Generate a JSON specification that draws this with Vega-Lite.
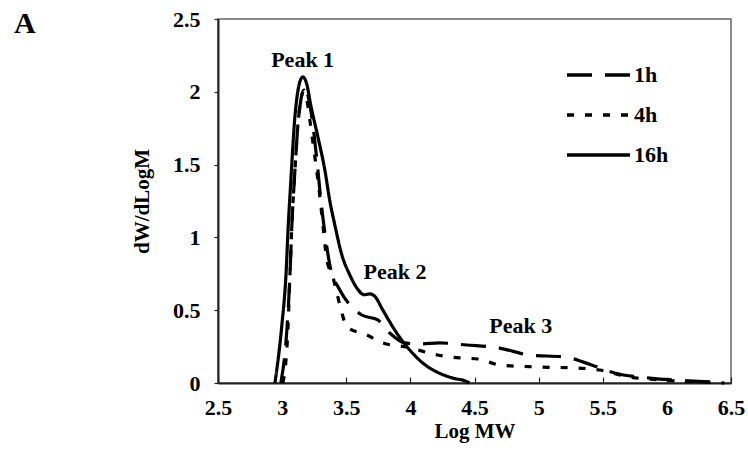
{
  "$schema": "https://vega.github.io/schema/vega-lite/v6.json",
  "width": 513,
  "height": 364,
  "autosize": {"type": "none"},
  "padding": {"left": 218, "top": 19, "right": 17, "bottom": 92},
  "background": "white",
  "title": {"text": "A", "anchor": "start", "frame": "group", "fontSize": 30, "font": "Liberation Serif", "fontWeight": "bold", "color": "black", "dx": -204, "offset": 0, "dy": 55, "baseline": "alphabetic"},
  "config": {
    "view": {"stroke": "#666", "strokeWidth": 1.5},
    "font": "Liberation Serif",
    "axis": {"labelFont": "Liberation Serif", "labelFontWeight": "bold", "labelFontSize": 22, "labelColor": "black", "titleFont": "Liberation Serif", "titleFontWeight": "bold", "titleFontSize": 21, "titleColor": "black", "domainColor": "#222", "domainWidth": 2, "tickColor": "#222", "tickWidth": 1.2, "grid": false}
  },
  "datasets": {
    "curves": [
      {"s": "1h", "x": 2.99, "y": 0},
      {"s": "1h", "x": 3.037, "y": 0.364},
      {"s": "1h", "x": 3.061, "y": 0.742},
      {"s": "1h", "x": 3.076, "y": 1.085},
      {"s": "1h", "x": 3.1, "y": 1.463},
      {"s": "1h", "x": 3.123, "y": 1.772},
      {"s": "1h", "x": 3.146, "y": 1.944},
      {"s": "1h", "x": 3.178, "y": 2.026},
      {"s": "1h", "x": 3.209, "y": 1.944},
      {"s": "1h", "x": 3.24, "y": 1.772},
      {"s": "1h", "x": 3.271, "y": 1.532},
      {"s": "1h", "x": 3.302, "y": 1.257},
      {"s": "1h", "x": 3.341, "y": 0.982},
      {"s": "1h", "x": 3.372, "y": 0.81},
      {"s": "1h", "x": 3.45, "y": 0.639},
      {"s": "1h", "x": 3.528, "y": 0.536},
      {"s": "1h", "x": 3.621, "y": 0.467},
      {"s": "1h", "x": 3.746, "y": 0.433},
      {"s": "1h", "x": 3.84, "y": 0.343},
      {"s": "1h", "x": 3.956, "y": 0.275},
      {"s": "1h", "x": 4.073, "y": 0.268},
      {"s": "1h", "x": 4.229, "y": 0.275},
      {"s": "1h", "x": 4.439, "y": 0.261},
      {"s": "1h", "x": 4.696, "y": 0.24},
      {"s": "1h", "x": 4.93, "y": 0.192},
      {"s": "1h", "x": 5.202, "y": 0.179},
      {"s": "1h", "x": 5.413, "y": 0.124},
      {"s": "1h", "x": 5.592, "y": 0.069},
      {"s": "1h", "x": 5.865, "y": 0.034},
      {"s": "1h", "x": 6.176, "y": 0.014},
      {"s": "1h", "x": 6.409, "y": 0.007},
      {"s": "4h", "x": 3.006, "y": 0},
      {"s": "4h", "x": 3.045, "y": 0.364},
      {"s": "4h", "x": 3.061, "y": 0.742},
      {"s": "4h", "x": 3.076, "y": 1.085},
      {"s": "4h", "x": 3.1, "y": 1.463},
      {"s": "4h", "x": 3.123, "y": 1.772},
      {"s": "4h", "x": 3.146, "y": 1.944},
      {"s": "4h", "x": 3.17, "y": 2.012},
      {"s": "4h", "x": 3.193, "y": 1.944},
      {"s": "4h", "x": 3.216, "y": 1.806},
      {"s": "4h", "x": 3.248, "y": 1.6},
      {"s": "4h", "x": 3.279, "y": 1.394},
      {"s": "4h", "x": 3.31, "y": 1.154},
      {"s": "4h", "x": 3.349, "y": 0.845},
      {"s": "4h", "x": 3.396, "y": 0.728},
      {"s": "4h", "x": 3.427, "y": 0.618},
      {"s": "4h", "x": 3.466, "y": 0.481},
      {"s": "4h", "x": 3.505, "y": 0.385},
      {"s": "4h", "x": 3.66, "y": 0.33},
      {"s": "4h", "x": 3.785, "y": 0.275},
      {"s": "4h", "x": 3.972, "y": 0.247},
      {"s": "4h", "x": 4.213, "y": 0.192},
      {"s": "4h", "x": 4.385, "y": 0.172},
      {"s": "4h", "x": 4.525, "y": 0.165},
      {"s": "4h", "x": 4.696, "y": 0.124},
      {"s": "4h", "x": 4.992, "y": 0.11},
      {"s": "4h", "x": 5.304, "y": 0.103},
      {"s": "4h", "x": 5.475, "y": 0.089},
      {"s": "4h", "x": 5.709, "y": 0.041},
      {"s": "4h", "x": 5.942, "y": 0.021},
      {"s": "4h", "x": 6.254, "y": 0.007},
      {"s": "4h", "x": 6.449, "y": 0},
      {"s": "16h", "x": 2.944, "y": 0},
      {"s": "16h", "x": 2.998, "y": 0.398},
      {"s": "16h", "x": 3.03, "y": 0.742},
      {"s": "16h", "x": 3.048, "y": 1.085},
      {"s": "16h", "x": 3.066, "y": 1.36},
      {"s": "16h", "x": 3.082, "y": 1.6},
      {"s": "16h", "x": 3.097, "y": 1.8},
      {"s": "16h", "x": 3.117, "y": 1.97},
      {"s": "16h", "x": 3.137, "y": 2.065},
      {"s": "16h", "x": 3.162, "y": 2.102},
      {"s": "16h", "x": 3.19, "y": 2.06},
      {"s": "16h", "x": 3.225, "y": 1.9},
      {"s": "16h", "x": 3.279, "y": 1.69},
      {"s": "16h", "x": 3.333, "y": 1.463},
      {"s": "16h", "x": 3.372, "y": 1.25},
      {"s": "16h", "x": 3.411, "y": 1.085},
      {"s": "16h", "x": 3.466, "y": 0.879},
      {"s": "16h", "x": 3.528, "y": 0.742},
      {"s": "16h", "x": 3.583, "y": 0.652},
      {"s": "16h", "x": 3.64, "y": 0.606},
      {"s": "16h", "x": 3.684, "y": 0.612},
      {"s": "16h", "x": 3.723, "y": 0.595},
      {"s": "16h", "x": 3.785, "y": 0.501},
      {"s": "16h", "x": 3.894, "y": 0.343},
      {"s": "16h", "x": 3.995, "y": 0.227},
      {"s": "16h", "x": 4.097, "y": 0.137},
      {"s": "16h", "x": 4.206, "y": 0.076},
      {"s": "16h", "x": 4.33, "y": 0.034},
      {"s": "16h", "x": 4.439, "y": 0.01},
      {"s": "16h", "x": 4.46, "y": 0}
    ],
    "notes": [
      {"label": "Peak 1", "x": 3.16, "y": 2.22},
      {"label": "Peak 2", "x": 3.88, "y": 0.76},
      {"label": "Peak 3", "x": 4.86, "y": 0.39}
    ]
  },
  "layer": [
    {
      "data": {"name": "curves"},
      "mark": {"type": "line", "color": "black", "strokeWidth": 3.2, "strokeJoin": "round", "interpolate": "monotone"},
      "encoding": {
        "x": {"field": "x", "type": "quantitative", "scale": {"domain": [2.5, 6.5], "nice": false, "zero": false},
              "axis": {"values": [2.5, 3, 3.5, 4, 4.5, 5, 5.5, 6, 6.5], "format": "~g", "title": "Log MW", "tickSize": -6, "labelPadding": 20, "titlePadding": 2, "labelFlush": false}},
        "y": {"field": "y", "type": "quantitative", "scale": {"domain": [0, 2.5], "nice": false},
              "axis": {"values": [0, 0.5, 1, 1.5, 2, 2.5], "format": "~g", "title": "dW/dLogM", "tickSize": 4, "labelPadding": 14, "titlePadding": 20, "labelFlush": false}},
        "strokeDash": {"field": "s", "type": "nominal",
          "scale": {"domain": ["1h", "4h", "16h"], "range": [[25, 13], [7, 11], [1, 0]]},
          "legend": {"title": null, "orient": "none", "legendX": 347, "legendY": 45, "symbolType": "stroke", "symbolSize": 3969, "symbolStrokeWidth": 3.5, "symbolStrokeColor": "black", "labelFont": "Liberation Serif", "labelFontWeight": "bold", "labelFontSize": 22, "labelColor": "black", "labelOffset": 2, "clipHeight": 22, "rowPadding": 18, "padding": 0}}
      }
    },
    {
      "data": {"name": "notes"},
      "mark": {"type": "text", "font": "Liberation Serif", "fontWeight": "bold", "fontSize": 22, "color": "black"},
      "encoding": {
        "x": {"field": "x", "type": "quantitative"},
        "y": {"field": "y", "type": "quantitative"},
        "text": {"field": "label"}
      }
    }
  ]
}
